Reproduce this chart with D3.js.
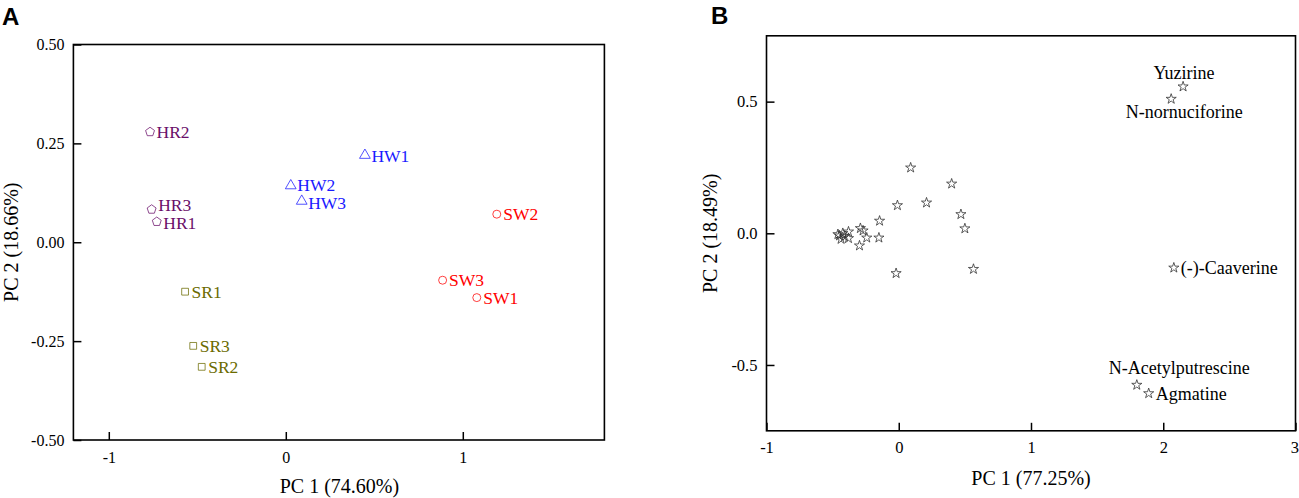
<!DOCTYPE html>
<html>
<head>
<meta charset="utf-8">
<script src="https://cdn.jsdelivr.net/npm/d3@7"></script>
<style>
  html, body { margin: 0; padding: 0; background: #fff; }
  svg { display: block; }
</style>
</head>
<body>
<svg id="chart" width="1299" height="498"></svg>
<script>
// ---------- Panel A data (samples) ----------
const samplesA = ["HR1", "HR2", "HR3", "HW1", "HW2", "HW3", "SW1", "SW2", "SW3", "SR1", "SR2", "SR3"];
const groupsA  = ["HR", "HR", "HR", "HW", "HW", "HW", "SW", "SW", "SW", "SR", "SR", "SR"];
const pc1A = [-0.729, -0.767, -0.758, 0.447, 0.028, 0.090, 1.079, 1.192, 0.886, -0.569, -0.475, -0.523];
const pc2A = [0.052, 0.279, 0.083, 0.220, 0.143, 0.104, -0.140, 0.071, -0.096, -0.125, -0.315, -0.262];
const xTicksA = [-1, 0, 1];
const yTicksA = [-0.50, -0.25, 0.00, 0.25, 0.50];
const xTitleA = "PC 1 (74.60%)";
const yTitleA = "PC 2 (18.66%)";

// ---------- Panel B data (compounds) ----------
const compoundsB = ["Yuzirine", "N-nornuciforine", "(-)-Caaverine", "N-Acetylputrescine", "Agmatine",
  "", "", "", "", "", "", "", "", "", "", "", "", "", "", "", "", "", "", "", "", ""];
const pc1B = [2.150, 2.060, 2.080, 1.800, 1.890,
  0.090, 0.400, -0.010, 0.210, 0.470, 0.500, -0.145, -0.150, -0.242, -0.290, -0.270,
  -0.297, -0.380, -0.380, -0.448, -0.423, -0.436, -0.460, -0.410, -0.020, 0.565];
const pc2B = [0.557, 0.510, -0.131, -0.576, -0.608,
  0.249, 0.188, 0.106, 0.116, 0.072, 0.018, 0.047, -0.017, -0.017, 0.019, 0.010,
  -0.047, 0.006, -0.019, -0.009, 0.000, -0.022, -0.004, -0.012, -0.152, -0.136];
const xTicksB = [-1, 0, 1, 2, 3];
const yTicksB = [-0.5, 0.0, 0.5];
const xTitleB = "PC 1 (77.25%)";
const yTitleB = "PC 2 (18.49%)";

// ---------- styles ----------
const SERIF = "'Liberation Serif', 'Times New Roman', Times, serif";
const SANS = "'Liberation Sans', Arial, Helvetica, sans-serif";
const groupColor = { HR: "#6a0f6a", HW: "#1a1aff", SW: "#ff0000", SR: "#6b6b00" };
const hyphen = f => d => f(d).replace("\u2212", "-");

const symbolPentagon = {
  draw(ctx, size) {
    const r = Math.sqrt(size / (2.5 * Math.sin(2 * Math.PI / 5)));
    for (let i = 0; i < 5; i++) {
      const a = -Math.PI / 2 + i * 2 * Math.PI / 5;
      const x = r * Math.cos(a), y = r * Math.sin(a);
      if (i === 0) ctx.moveTo(x, y); else ctx.lineTo(x, y);
    }
    ctx.closePath();
  }
};
const groupSymbol = {
  HR: d3.symbol(symbolPentagon, 52),
  HW: d3.symbol(d3.symbolTriangle, 50),
  SW: d3.symbol(d3.symbolCircle, 50),
  SR: d3.symbol(d3.symbolSquare, 46)
};
// label nudges (layout only)
const labelNudgeA = { HR3: -4, HR1: 1.5, HW1: 1, HW2: 0, HW3: 2 };

const svg = d3.select("#chart");

function frame(g, x, y) {
  g.append("rect")
    .attr("x", x.range()[0]).attr("y", y.range()[1])
    .attr("width", x.range()[1] - x.range()[0])
    .attr("height", y.range()[0] - y.range()[1])
    .attr("fill", "none").attr("stroke", "#000").attr("stroke-width", 1.6);
}

function axes(g, x, y, xt, yt, xfmt, yfmt, xpad, ypad, fs) {
  const ax = g.append("g")
    .attr("transform", `translate(0,${y.range()[0]})`)
    .call(d3.axisBottom(x).tickValues(xt).tickFormat(xfmt)
      .tickSizeInner(-8).tickSizeOuter(0).tickPadding(xpad));
  const ay = g.append("g")
    .attr("transform", `translate(${x.range()[0]},0)`)
    .call(d3.axisLeft(y).tickValues(yt).tickFormat(yfmt)
      .tickSizeInner(-8).tickSizeOuter(0).tickPadding(ypad));
  [ax, ay].forEach(a => {
    a.select(".domain").remove();
    a.attr("font-family", SERIF).attr("font-size", fs);
    a.selectAll(".tick line").attr("stroke", "#000").attr("stroke-width", 1.5);
    a.selectAll(".tick text").attr("fill", "#000");
  });
  return ax;
}

// ================= Panel A =================
const xA = d3.scaleLinear([-1.2, 1.8], [73.4, 604.4]);
const yA = d3.scaleLinear([-0.5, 0.5], [440, 44.5]);
const gA = svg.append("g");

gA.append("text").text("A").attr("x", 2).attr("y", 25)
  .attr("font-family", SANS).attr("font-weight", "bold").attr("font-size", 24);

axes(gA, xA, yA, xTicksA, yTicksA, hyphen(d3.format("d")), hyphen(d3.format(".2f")), 11.6, 9, 16);
frame(gA, xA, yA);

const ptsA = samplesA.map((s, i) => ({ name: s, group: groupsA[i], x: pc1A[i], y: pc2A[i] }));
gA.selectAll("path.mark").data(ptsA).join("path")
  .attr("class", "mark")
  .attr("transform", d => `translate(${xA(d.x)},${yA(d.y)})`)
  .attr("d", d => groupSymbol[d.group]())
  .attr("fill", "none")
  .attr("stroke", d => groupColor[d.group])
  .attr("stroke-opacity", 0.75)
  .attr("stroke-width", 1);
gA.selectAll("text.lab").data(ptsA).join("text")
  .attr("class", "lab")
  .attr("x", d => xA(d.x) + 6.5)
  .attr("y", d => yA(d.y) + (labelNudgeA[d.name] ?? 0.5))
  .attr("dy", "0.33em")
  .attr("font-family", SERIF).attr("font-size", 17.5)
  .attr("fill", d => groupColor[d.group])
  .text(d => d.name);

gA.append("text").text(xTitleA)
  .attr("x", (xA.range()[0] + xA.range()[1]) / 2 + 0.5).attr("y", 493)
  .attr("text-anchor", "middle").attr("font-family", SERIF).attr("font-size", 20);
gA.append("text").text(yTitleA)
  .attr("transform", `translate(18,${yA(0)}) rotate(-90)`)
  .attr("text-anchor", "middle").attr("font-family", SERIF).attr("font-size", 20);

// ================= Panel B =================
const xB = d3.scaleLinear([-1, 3], [766.5, 1295.5]);
const yB = d3.scaleLinear([-0.75, 0.75], [430.8, 35.8]);
const gB = svg.append("g");

gB.append("text").text("B").attr("x", 711).attr("y", 24)
  .attr("font-family", SANS).attr("font-weight", "bold").attr("font-size", 24);

const axB = axes(gB, xB, yB, xTicksB, yTicksB, hyphen(d3.format("d")), hyphen(d3.format(".1f")), 10, 9, 16.5);
// keep the last tick label inside the window
axB.selectAll(".tick text").filter(d => d === xTicksB[xTicksB.length - 1])
  .attr("text-anchor", "end").attr("x", 3);
frame(gB, xB, yB);

const ptsB = compoundsB.map((c, i) => ({ name: c, x: pc1B[i], y: pc2B[i] }));
const star = d3.symbol(d3.symbolStar, 32);
gB.selectAll("path.star").data(ptsB).join("path")
  .attr("class", "star")
  .attr("transform", d => `translate(${xB(d.x)},${yB(d.y)})`)
  .attr("d", star())
  .attr("fill", "none")
  .attr("stroke", "#333")
  .attr("stroke-width", 0.8);

// label placement (layout only): [dx, dy, anchor]
const labelPlaceB = {
  "Yuzirine": [1, -14, "middle"],
  "N-nornuciforine": [13, 13, "middle"],
  "(-)-Caaverine": [7, 0, "start"],
  "N-Acetylputrescine": [42.5, -16.7, "middle"],
  "Agmatine": [7, 1, "start"]
};
gB.selectAll("text.lab").data(ptsB.filter(d => d.name)).join("text")
  .attr("class", "lab")
  .attr("x", d => xB(d.x) + labelPlaceB[d.name][0])
  .attr("y", d => yB(d.y) + labelPlaceB[d.name][1])
  .attr("dy", "0.33em")
  .attr("text-anchor", d => labelPlaceB[d.name][2])
  .attr("font-family", SERIF).attr("font-size", 18)
  .attr("fill", "#000")
  .text(d => d.name);

gB.append("text").text(xTitleB)
  .attr("x", xB(1)).attr("y", 485)
  .attr("text-anchor", "middle").attr("font-family", SERIF).attr("font-size", 20);
gB.append("text").text(yTitleB)
  .attr("transform", `translate(717,${yB(0)}) rotate(-90)`)
  .attr("text-anchor", "middle").attr("font-family", SERIF).attr("font-size", 20);
</script>
</body>
</html>
